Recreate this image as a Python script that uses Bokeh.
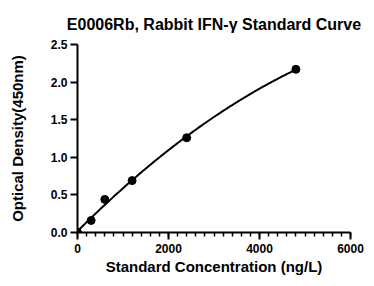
import numpy as np
from bokeh.plotting import figure
from bokeh.models import SingleIntervalTicker, NumeralTickFormatter, Range1d
from bokeh.embed import file_html
from bokeh.resources import INLINE

# Data
concentration = [0, 300, 600, 1200, 2400, 4800]
optical_density = [0.0, 0.16, 0.44, 0.69, 1.26, 2.17]

title_text = "E0006Rb, Rabbit IFN-\u03b3 Standard Curve"
x_label = "Standard Concentration (ng/L)"
y_label = "Optical Density(450nm)"

FONT = "Liberation Sans"

# fitted curve derived from the data points
coef = np.polyfit(concentration, optical_density, 2)
fit_x = np.linspace(0, max(concentration), 200)
fit_y = np.polyval(coef, fit_x)

p = figure(width=366, height=278, output_backend="svg", toolbar_location=None,
           x_range=Range1d(0, 6000), y_range=Range1d(0, 2.5),
           min_border_left=77, min_border_right=16, min_border_top=44,
           min_border_bottom=46)

p.title.text = title_text
p.title.text_font = FONT
p.title.text_font_style = "bold"
p.title.text_font_size = "16px"
p.title.text_color = "black"
p.title.align = "center"
p.title.vertical_align = "top"
p.title.standoff = 19
p.title.offset = 0

p.outline_line_color = None
p.xgrid.visible = False
p.ygrid.visible = False

p.line(fit_x, fit_y, line_color="black", line_width=2)
p.scatter(concentration, optical_density, size=8, color="black")

xa = p.xaxis[0]
ya = p.yaxis[0]
xa.ticker = SingleIntervalTicker(interval=2000, num_minor_ticks=10)
ya.ticker = SingleIntervalTicker(interval=0.5, num_minor_ticks=0)
xa.formatter = NumeralTickFormatter(format="0")
ya.formatter = NumeralTickFormatter(format="0.0")
xa.axis_label = x_label
ya.axis_label = y_label

for ax in (xa, ya):
    ax.axis_line_width = 2
    ax.major_tick_line_width = 2
    ax.minor_tick_line_width = 1.5
    ax.major_tick_in = 0
    ax.minor_tick_in = 0
    ax.major_tick_out = 7
    ax.minor_tick_out = 4
    ax.major_label_text_font = FONT
    ax.major_label_text_font_style = "bold"
    ax.major_label_text_font_size = "12px"
    ax.major_label_text_color = "black"
    ax.axis_label_text_font = FONT
    ax.axis_label_text_font_style = "bold"
    ax.axis_label_text_font_size = "15px"
    ax.axis_label_text_color = "black"
    ax.axis_line_color = "black"
    ax.major_tick_line_color = "black"
    ax.minor_tick_line_color = "black"

ya.minor_tick_out = 0
xa.major_label_standoff = 4
ya.major_label_standoff = 3
xa.axis_label_standoff = 2
ya.axis_label_standoff = 22

open("out.html", "w").write(file_html(p, INLINE))
